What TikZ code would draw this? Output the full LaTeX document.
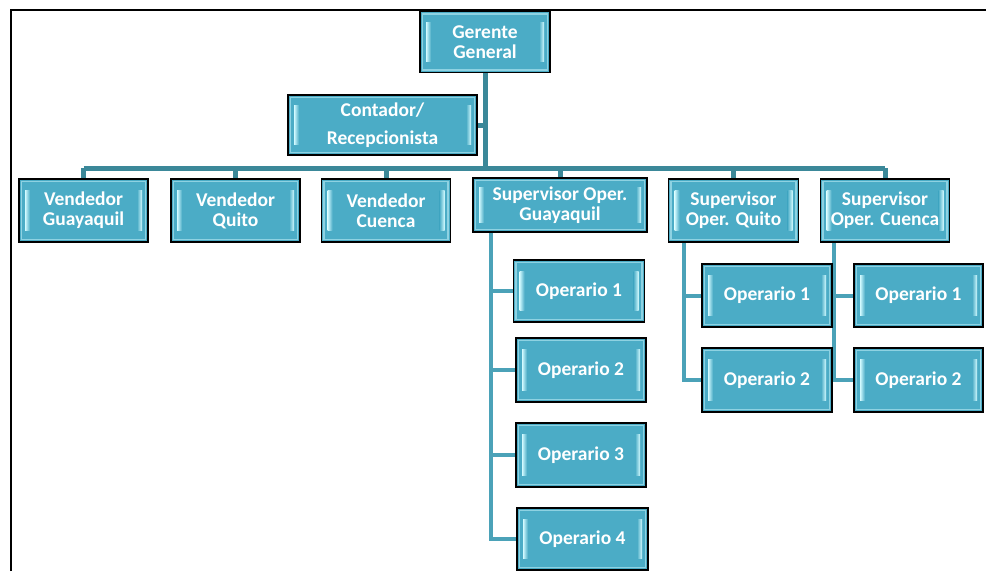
\documentclass[tikz,border=0pt]{standalone}
\usepackage{fontspec}
\setmainfont{Carlito}
\usetikzlibrary{calc,backgrounds}
\definecolor{boxfill}{HTML}{4BACC6}
\definecolor{boxedge}{HTML}{8ED2E2}
\definecolor{hl}{HTML}{D2FAFF}
\definecolor{linkmain}{HTML}{3B8899}
\definecolor{linkop}{HTML}{4BA2B8}
\tikzset{
  orgbox/.style={draw=black, line width=1.6pt, fill=boxfill, text=white,
    font=\fontsize{19.5}{20}\selectfont\bfseries, align=center, inner sep=0pt,
    path picture={
      \draw[boxedge, line width=1.2pt]
        ([shift={(2.5pt,-2.5pt)}]path picture bounding box.north west) rectangle
        ([shift={(-2.5pt,2.5pt)}]path picture bounding box.south east);
      \shade[left color=hl, right color=boxfill]
        ($(path picture bounding box.north west)!0.18!(path picture bounding box.south west)+(6pt,0)$) rectangle
        ($(path picture bounding box.north west)!0.82!(path picture bounding box.south west)+(11pt,0)$);
      \shade[right color=hl, left color=boxfill]
        ($(path picture bounding box.north east)!0.18!(path picture bounding box.south east)+(-11pt,0)$) rectangle
        ($(path picture bounding box.north east)!0.82!(path picture bounding box.south east)+(-6pt,0)$);
    }},
  link/.style={draw=linkmain, line width=5pt},
  oplink/.style={draw=linkop, line width=4pt},
}
\begin{document}
\begin{tikzpicture}[x=1pt,y=-1pt]
\useasboundingbox (0,0) rectangle (986,571);
\draw[black, line width=2.5pt] (11,571) -- (11,10) -- (986,10);

\node[orgbox, minimum width=130pt, minimum height=61pt] (gg) at (485,42) {Gerente\\General};
\node[orgbox, minimum width=189pt, minimum height=60pt,
  font=\fontsize{19.5}{28}\selectfont\bfseries] (cr) at (382.5,125) {Contador/\\Recepcionista};

\node[orgbox, minimum width=129pt, minimum height=63pt] (vg) at (83.5,210.5) {Vendedor\\Guayaquil};
\node[orgbox, minimum width=129pt, minimum height=63pt] (vq) at (235.5,210.5) {Vendedor\\Quito};
\node[orgbox, minimum width=129pt, minimum height=63pt] (vc) at (386,210.5) {Vendedor\\Cuenca};
\node[orgbox, minimum width=174pt, minimum height=54pt] (sg) at (560,205) {Supervisor Oper.\\Guayaquil};
\node[orgbox, minimum width=130pt, minimum height=63pt] (sq) at (733.5,210.5) {Supervisor\\Oper. Quito};
\node[orgbox, minimum width=129pt, minimum height=63pt] (sc) at (885,210.5) {Supervisor\\Oper. Cuenca};

\node[orgbox, minimum width=131pt, minimum height=62pt] (g1) at (579,291) {Operario 1};
\node[orgbox, minimum width=130pt, minimum height=64pt] (g2) at (581,370) {Operario 2};
\node[orgbox, minimum width=130pt, minimum height=64pt] (g3) at (581,455) {Operario 3};
\node[orgbox, minimum width=131pt, minimum height=62pt] (g4) at (582.5,539) {Operario 4};

\node[orgbox, minimum width=130pt, minimum height=63pt] (q1) at (767,295.5) {Operario 1};
\node[orgbox, minimum width=130pt, minimum height=64pt] (q2) at (767,380) {Operario 2};
\node[orgbox, minimum width=129pt, minimum height=63pt] (c1) at (918.5,295.5) {Operario 1};
\node[orgbox, minimum width=129pt, minimum height=64pt] (c2) at (918.5,380) {Operario 2};

\coordinate (lvl) at (486,168);
\begin{scope}[on background layer]
  \draw[link] (gg.south) -- (gg.south |- lvl);
  \draw[link] (cr.east) -- (cr.east -| gg.south);
  \draw[link] (vg.north |- lvl) -- (sc.north |- lvl);
  \foreach \n in {vg,vq,vc,sg,sq,sc} \draw[link] (\n.north) -- (\n.north |- lvl);
  \draw[oplink] ([xshift=19pt]sg.south west) |- (g4.west);
  \foreach \n in {g1,g2,g3} \draw[oplink] ([xshift=19pt]sg.south west |- \n.west) -- (\n.west);
  \draw[oplink] ([xshift=16pt]sq.south west) |- (q2.west);
  \draw[oplink] ([xshift=16pt]sq.south west |- q1.west) -- (q1.west);
  \draw[oplink] ([xshift=14pt]sc.south west) |- (c2.west);
  \draw[oplink] ([xshift=14pt]sc.south west |- c1.west) -- (c1.west);
\end{scope}
\end{tikzpicture}
\end{document}
